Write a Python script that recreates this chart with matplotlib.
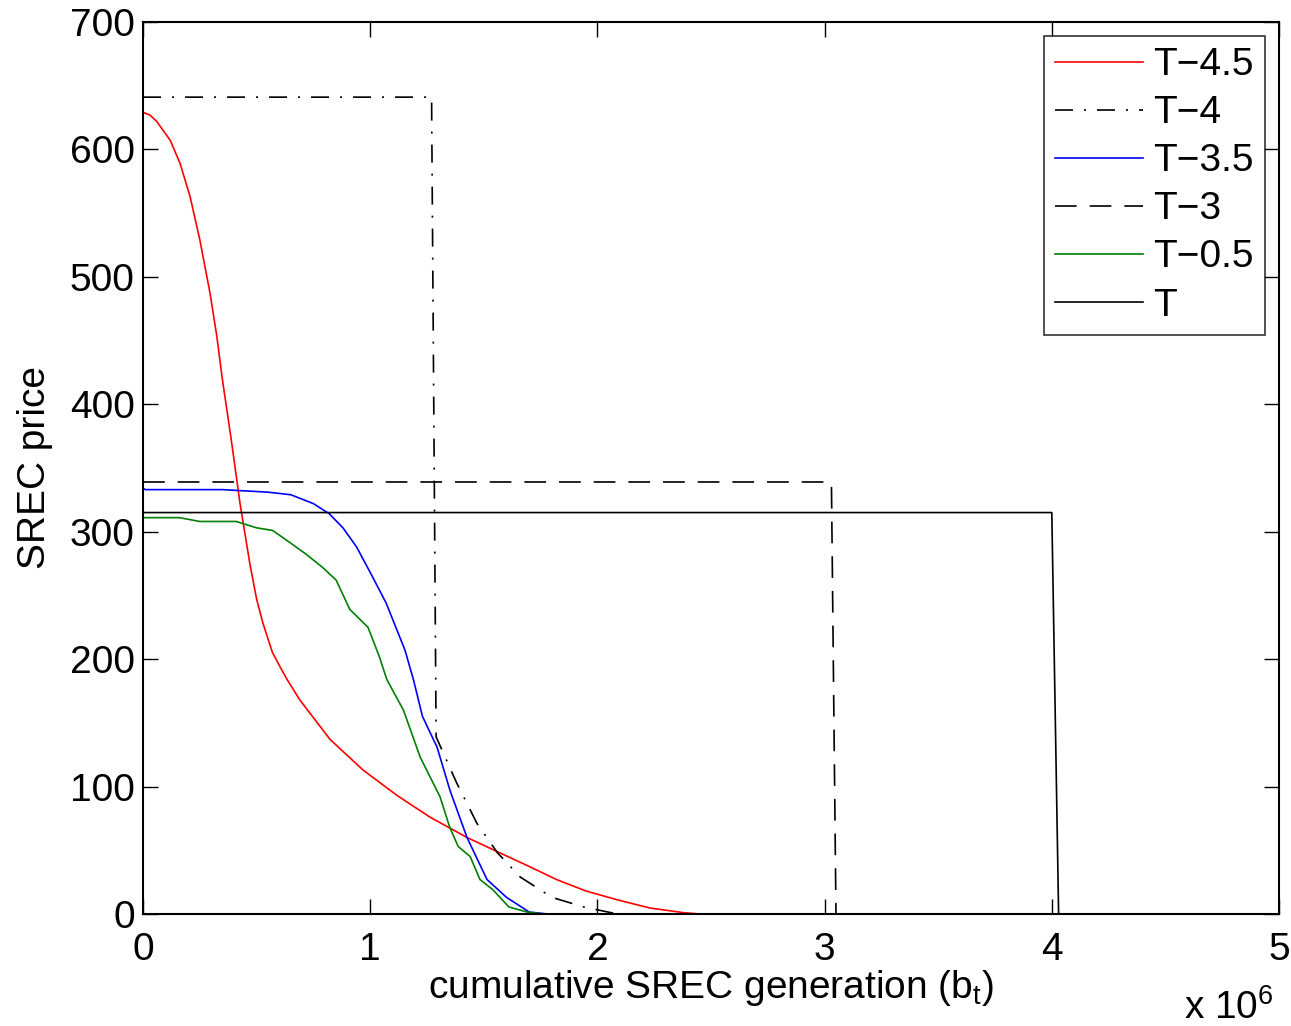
import matplotlib
matplotlib.use("Agg")
import matplotlib.pyplot as plt
import numpy as np

plt.rcParams['font.family'] = ['Liberation Sans', 'DejaVu Sans']
plt.rcParams['mathtext.fontset'] = 'custom'
plt.rcParams['mathtext.rm'] = 'Liberation Sans'
plt.rcParams['mathtext.it'] = 'Liberation Sans'

labels = ["T\u22124.5", "T\u22124", "T\u22123.5", "T\u22123", "T\u22120.5", "T"]

# x values in units of 1e6
x_t45 = [0, 0.03, 0.06, 0.12, 0.163, 0.207, 0.25, 0.295, 0.325, 0.348, 0.39, 0.427, 0.47,
         0.50, 0.528, 0.57, 0.603, 0.634, 0.69, 0.823, 0.968, 1.118, 1.263, 1.426, 1.558,
         1.703, 1.82, 1.95, 2.09, 2.23, 2.38, 2.45, 4.0]
y_t45 = [629, 627, 622, 607, 589, 563, 529, 487, 453, 421, 370, 322, 275,
         247, 228, 205, 194, 184, 168, 137, 113, 93, 76, 60, 49,
         37, 27, 18, 11, 4.7, 1, 0, 0]

x_t4 = [0, 1.27, 1.29, 1.38, 1.47, 1.56, 1.66, 1.80, 1.94, 2.06, 2.12, 4.0]
y_t4 = [641, 641, 139, 103, 71, 48, 29, 13, 5.5, 1, 0, 0]

x_t35 = [0, 0.01, 0.35, 0.55, 0.65, 0.75, 0.82, 0.88, 0.94, 1.00, 1.07, 1.153, 1.19,
         1.23, 1.294, 1.351, 1.426, 1.514, 1.60, 1.70, 1.78, 4.0]
y_t35 = [334, 333, 333, 331, 329, 322, 314, 303, 288, 268, 244, 207, 184,
         155, 131, 97, 60, 27, 13, 1.5, 0, 0]

x_t3 = [0, 3.03, 3.05, 4.0]
y_t3 = [339, 339, 0, 0]

x_t05 = [0, 0.16, 0.25, 0.41, 0.50, 0.57, 0.65, 0.72, 0.79, 0.85, 0.91, 0.99,
         1.04, 1.073, 1.146, 1.22, 1.307, 1.35, 1.387, 1.44, 1.483, 1.54, 1.61,
         1.69, 1.76, 4.0]
y_t05 = [311, 311, 308, 308, 303, 301, 291, 282, 272, 262, 239, 225,
         202, 184, 160, 123, 92, 68, 53, 45, 27, 19, 5.5,
         1.5, 0, 0]

x_t = [0, 4.0, 4.03, 4.7]
y_t = [315, 315, 0, 0]

fig = plt.figure(figsize=(12.91, 10.26), dpi=100)
ax = fig.add_axes([0.1108, 0.1092, 0.8799, 0.8694])

fs = 28
sc = 1e6
lw = 1.2
ax.plot(np.array(x_t45) * sc, y_t45, color='red', lw=lw, label=labels[0])
ax.plot(np.array(x_t4) * sc, y_t4, color='black', lw=lw, ls=(0, (10.8, 6.6, 1.2, 6.6)), label=labels[1])
ax.plot(np.array(x_t35) * sc, y_t35, color='blue', lw=lw, label=labels[2])
ax.plot(np.array(x_t3) * sc, y_t3, color='black', lw=lw, ls=(0, (13, 7.8)), label=labels[3])
ax.plot(np.array(x_t05) * sc, y_t05, color='green', lw=lw, label=labels[4])
ax.plot(np.array(x_t) * sc, y_t, color='black', lw=lw, label=labels[5])

ax.set_xlim(0, 5e6)
ax.set_ylim(0, 700)
ax.set_xticks(np.arange(0, 6) * 1e6)
ax.set_xticklabels([str(i) for i in range(6)])
ax.set_yticks(np.arange(0, 701, 100))
ax.tick_params(direction='in', length=11, width=1, top=True, right=True,
               labelsize=fs)
ax.tick_params(axis='x', pad=13)
ax.tick_params(axis='y', pad=6)
for s in ax.spines.values():
    s.set_linewidth(1.5)

ax.set_xlabel("cumulative SREC generation (b$_\\mathregular{t}$)", fontsize=fs, labelpad=0)
ax.set_ylabel("SREC price", fontsize=fs, labelpad=12)
fig.text(1229/1291, 1 - 1008/1026, "x 10$^\\mathregular{6}$", fontsize=fs,
         ha='center', va='center')

leg = ax.legend(loc='upper right', fontsize=fs, frameon=True, fancybox=False,
                edgecolor='black', handlelength=2.26, handletextpad=0.26,
                labelspacing=0.31, borderpad=0.3, borderaxespad=0.35)
leg.get_frame().set_linewidth(1.2)

fig.savefig("out.png", dpi=100)
